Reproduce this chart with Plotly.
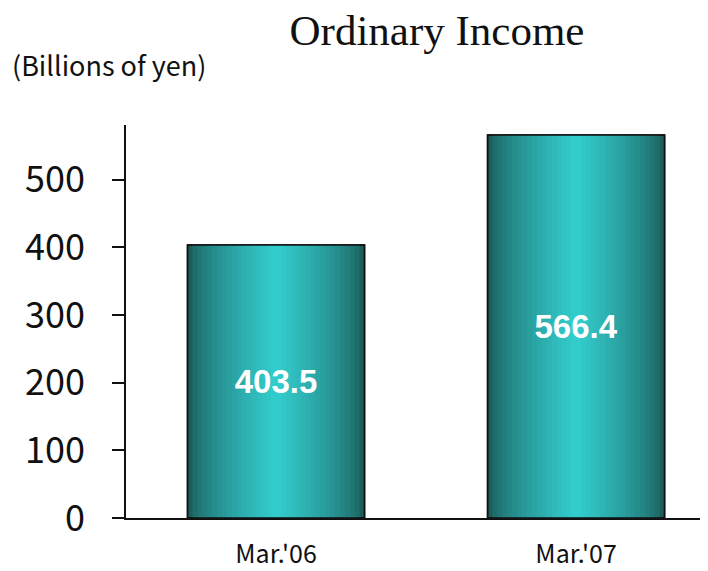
import plotly.graph_objects as go

categories = ["Mar.'06", "Mar.'07"]
values = [403.5, 566.4]
labels = ["403.5", "566.4"]
y_ticks = [0, 100, 200, 300, 400, 500]

dark = (27, 94, 92)
light = (51, 204, 204)
N = 18
full_w = 0.59

fig = go.Figure()
for k in range(N):
    t = k / (N - 1)
    t2 = t ** 0.7
    c = tuple(int(round(dark[i] + (light[i] - dark[i]) * t2)) for i in range(3))
    w = full_w * (1 - k / N)
    fig.add_trace(go.Bar(
        x=categories, y=values, width=w,
        marker=dict(color="rgb(%d,%d,%d)" % c,
                    line=dict(color="#111111", width=1.5 if k == 0 else 0)),
        hoverinfo="skip", showlegend=False,
    ))

# transparent overlay carrying the labels
fig.add_trace(go.Bar(
    x=categories, y=values, width=full_w,
    marker=dict(color="rgba(0,0,0,0)", line=dict(color="#111111", width=1.5)),
    text=labels, textposition="inside", insidetextanchor="middle",
    constraintext="none",
    textfont=dict(family="Liberation Sans, Arial", size=33, color="white", weight="bold"),
    showlegend=False,
))

W, H = 700, 563
tick_family = "Noto Sans CJK JP, Liberation Sans, Arial"
fig.update_layout(
    barmode="overlay",
    width=W, height=H,
    margin=dict(l=118, r=2, t=117, b=53),
    paper_bgcolor="white", plot_bgcolor="white",
    title=dict(text="Ordinary Income", x=429 / W, xanchor="center", xref="container",
               y=1 - 22 / H, yanchor="middle", yref="container",
               font=dict(family="Liberation Serif, Times New Roman, serif", size=43, color="#111111")),
    xaxis=dict(range=[-0.5, 1.433], showgrid=False, showline=True, linecolor="#111111", linewidth=1.5,
               ticks="", tickfont=dict(family=tick_family, size=25, color="#111111"),
               ticklabelstandoff=13, automargin=False),
    yaxis=dict(range=[0, 581], tickvals=y_ticks, showgrid=False, showline=True, linecolor="#111111",
               linewidth=1.5, ticks="outside", ticklen=12, tickwidth=1.5, tickcolor="#111111",
               tickfont=dict(family=tick_family, size=36, color="#111111"),
               ticklabelstandoff=20, zeroline=False, automargin=False),
    annotations=[dict(text="(Billions of yen)", x=(2 - 118) / 580, xanchor="left",
                      y=(518 - 65) / 393, yanchor="middle", xref="paper", yref="paper",
                      showarrow=False,
                      font=dict(family=tick_family, size=27, color="#111111"))],
)

fig.write_html("out.html")
